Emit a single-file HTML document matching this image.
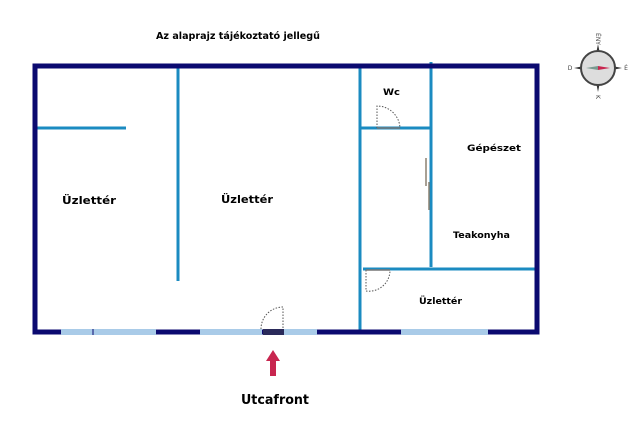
<!DOCTYPE html>
<html><head><style>body{margin:0;background:#fff}</style></head><body>
<svg width="640" height="421" xmlns="http://www.w3.org/2000/svg" font-family="DejaVu Sans, sans-serif" font-weight="bold">
<rect width="640" height="421" fill="#fff"/>
<text x="156" y="39" font-size="9.5" textLength="164" lengthAdjust="spacingAndGlyphs" font-weight="normal" style="font-weight:600">Az alaprajz tájékoztató jellegű</text>
<g stroke="#1b8bc1" stroke-width="3">
<line x1="178" y1="66" x2="178" y2="281"/>
<line x1="36" y1="128" x2="126" y2="128"/>
<line x1="360" y1="66" x2="360" y2="330"/>
<line x1="431" y1="62" x2="431" y2="267"/>
<line x1="360" y1="128" x2="431" y2="128"/>
<line x1="363" y1="269" x2="537" y2="269"/>
</g>
<rect x="35" y="66" width="502" height="266" fill="none" stroke="#0b0a70" stroke-width="5"/>
<g fill="#a9cbe8">
<rect x="61" y="329" width="95" height="6"/>
<rect x="200" y="329" width="62" height="6"/>
<rect x="284" y="329" width="33" height="6"/>
<rect x="401" y="329" width="87" height="6"/>
</g>
<line x1="93" y1="329" x2="93" y2="335" stroke="#0b0a70" stroke-width="1"/>
<rect x="263" y="329" width="21" height="6" fill="#2a2a5a"/>
<g fill="none" stroke="#555" stroke-width="1" stroke-dasharray="1.5,1.5">
<path d="M261 329 A22 22 0 0 1 283 307 L283 329"/>
<path d="M377 128 L377 106 A23 23 0 0 1 400 128"/>
<path d="M366 270 L366 291 A21 21 0 0 0 390 270"/>
</g>
<line x1="377" y1="128" x2="400" y2="128" stroke="#777" stroke-width="1.5"/>
<line x1="366" y1="270" x2="390" y2="270" stroke="#777" stroke-width="1.5"/>
<line x1="426" y1="158" x2="426" y2="186" stroke="#8a8070" stroke-width="1.5"/>
<line x1="429" y1="182" x2="429" y2="210" stroke="#8a8070" stroke-width="1.5"/>
<g font-size="11">
<text x="62" y="204" textLength="54" lengthAdjust="spacingAndGlyphs">Üzlettér</text>
<text x="221" y="203" textLength="52" lengthAdjust="spacingAndGlyphs">Üzlettér</text>
</g>
<g font-size="9">
<text x="383" y="95" textLength="17" lengthAdjust="spacingAndGlyphs">Wc</text>
<text x="467" y="151" textLength="54" lengthAdjust="spacingAndGlyphs">Gépészet</text>
<text x="453" y="238" textLength="57" lengthAdjust="spacingAndGlyphs">Teakonyha</text>
<text x="419" y="304" textLength="43" lengthAdjust="spacingAndGlyphs">Üzlettér</text>
</g>
<text x="241" y="404" font-size="13" textLength="68" lengthAdjust="spacingAndGlyphs">Utcafront</text>
<path d="M273 350 L280 361 L276 361 L276 376 L270 376 L270 361 L266 361 Z" fill="#c8264f"/>
<g transform="translate(598,68)">
<path d="M0 -24 L4 -4 L24 0 L4 4 L0 24 L-4 4 L-24 0 L-4 -4 Z" fill="#333"/>
<circle r="17" fill="#ddd" stroke="#444" stroke-width="2"/>
<path d="M0 -2 L12 0 L0 2 Z" fill="#c8264f"/>
<path d="M0 -2 L-12 0 L0 2 Z" fill="#7a9a90"/>
<g font-size="6" fill="#444" font-weight="normal" text-anchor="middle">
<text x="0" y="-27" transform="rotate(90 0 -29)">ÉNY</text>
<text x="28" y="2">É</text>
<text x="-28" y="2">D</text>
<text x="0" y="31" transform="rotate(90 0 29)">K</text>
</g>
</g>
</svg>
</body></html>
